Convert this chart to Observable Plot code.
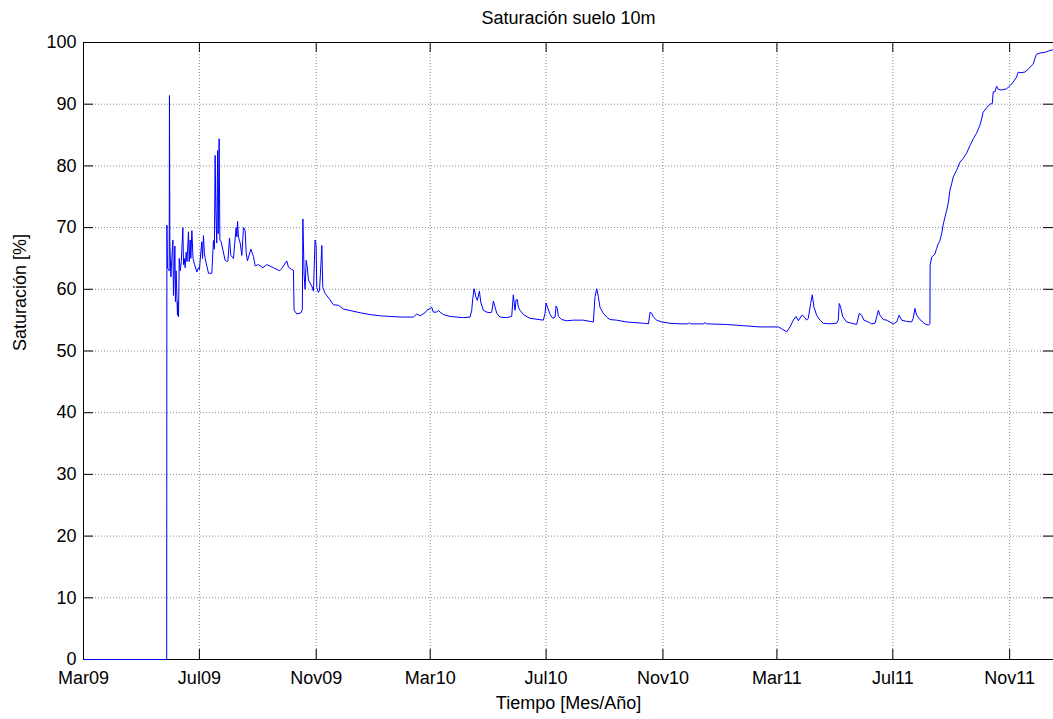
<!DOCTYPE html>
<html>
<head>
<meta charset="utf-8">
<script src="https://cdn.jsdelivr.net/npm/d3@7"></script>
<script src="https://cdn.jsdelivr.net/npm/@observablehq/plot@0.6"></script>
<style>
  html, body { margin: 0; padding: 0; background: #fff; }
  #chart svg { display: block; }
</style>
</head>
<body>
<div id="chart"></div>
<script>
// Soil saturation sensor at 10 m depth: reading time (UTC, hour resolution) and saturation (%)
const readingTimes = [
  "2009-03-01T00","2009-05-27T14","2009-05-27T19","2009-05-28T10","2009-05-29T19","2009-05-30T05","2009-05-30T12","2009-05-30T22","2009-06-01T00","2009-06-03T02",
  "2009-06-03T17","2009-06-05T05","2009-06-05T19","2009-06-06T12","2009-06-07T22","2009-06-08T12","2009-06-09T00","2009-06-09T19","2009-06-10T19","2009-06-12T00",
  "2009-06-13T14","2009-06-14T07","2009-06-15T00","2009-06-16T00","2009-06-17T02","2009-06-18T00","2009-06-19T12","2009-06-20T07","2009-06-21T07","2009-06-22T00",
  "2009-06-23T02","2009-06-24T07","2009-06-26T00","2009-06-28T07","2009-06-30T00","2009-07-01T02","2009-07-02T12","2009-07-03T14","2009-07-04T07","2009-07-05T07",
  "2009-07-06T05","2009-07-07T02","2009-07-10T14","2009-07-14T02","2009-07-15T19","2009-07-16T19","2009-07-17T14","2009-07-18T07","2009-07-19T07","2009-07-20T05",
  "2009-07-20T19","2009-07-21T19","2009-07-22T14","2009-07-23T22","2009-07-28T02","2009-07-29T22","2009-07-31T00","2009-08-01T17","2009-08-03T02","2009-08-05T22",
  "2009-08-07T12","2009-08-08T17","2009-08-09T12","2009-08-10T05","2009-08-11T02","2009-08-12T22","2009-08-14T17","2009-08-16T10","2009-08-18T05","2009-08-19T05",
  "2009-08-20T14","2009-08-24T05","2009-08-26T22","2009-08-28T17","2009-09-01T05","2009-09-05T19","2009-09-10T00","2009-09-17T00","2009-09-23T07","2009-09-25T19",
  "2009-10-01T00","2009-10-02T17","2009-10-06T07","2009-10-08T00","2009-10-08T17","2009-10-11T14","2009-10-16T02","2009-10-17T10","2009-10-17T22","2009-10-19T07",
  "2009-10-20T07","2009-10-21T10","2009-10-22T17","2009-10-23T19","2009-10-27T10","2009-10-29T02","2009-10-30T19","2009-10-31T22","2009-11-01T14","2009-11-03T07",
  "2009-11-04T10","2009-11-05T10","2009-11-06T22","2009-11-07T22","2009-11-10T10","2009-11-15T14","2009-11-19T02","2009-11-24T10","2009-11-29T14","2009-12-17T05",
  "2009-12-27T17","2010-01-07T07","2010-01-17T19","2010-01-30T02","2010-02-11T07","2010-02-14T22","2010-02-18T07","2010-02-23T14","2010-02-25T10","2010-02-28T22",
  "2010-03-02T14","2010-03-04T07","2010-03-07T22","2010-03-09T14","2010-03-11T10","2010-03-14T22","2010-03-21T22","2010-04-04T22","2010-04-12T00","2010-04-13T17",
  "2010-04-14T19","2010-04-16T05","2010-04-18T00","2010-04-19T14","2010-04-21T19","2010-04-23T05","2010-04-26T00","2010-04-29T14","2010-05-03T00","2010-05-04T19",
  "2010-05-06T12","2010-05-08T07","2010-05-10T02","2010-05-13T12","2010-05-20T14","2010-05-25T19","2010-05-27T12","2010-05-29T07","2010-05-30T10","2010-05-31T19",
  "2010-06-01T19","2010-06-03T14","2010-06-07T02","2010-06-14T02","2010-06-28T02","2010-06-29T22","2010-06-30T22","2010-07-02T10","2010-07-05T05","2010-07-08T00",
  "2010-07-10T10","2010-07-11T12","2010-07-12T19","2010-07-13T22","2010-07-17T12","2010-07-22T17","2010-07-29T17","2010-08-09T05","2010-08-19T17","2010-08-21T12",
  "2010-08-23T07","2010-08-25T00","2010-08-26T17","2010-08-30T05","2010-09-02T19","2010-09-06T07","2010-09-13T07","2010-09-23T22","2010-10-11T10","2010-10-16T17",
  "2010-10-18T12","2010-10-20T05","2010-10-22T00","2010-10-25T10","2010-10-30T17","2010-11-08T10","2010-11-19T00","2010-11-27T17","2010-11-28T19","2010-11-30T05",
  "2010-12-13T12","2010-12-15T07","2010-12-17T00","2011-01-07T02","2011-01-24T14","2011-02-11T05","2011-03-02T12","2011-03-06T00","2011-03-11T07","2011-03-14T19",
  "2011-03-18T07","2011-03-21T02","2011-03-23T14","2011-03-27T05","2011-03-29T12","2011-04-01T07","2011-04-03T00","2011-04-05T12","2011-04-07T05","2011-04-09T00",
  "2011-04-11T19","2011-04-15T07","2011-04-18T19","2011-04-25T19","2011-05-02T22","2011-05-04T14","2011-05-05T14","2011-05-07T02","2011-05-09T05","2011-05-13T10",
  "2011-05-18T17","2011-05-23T22","2011-05-26T17","2011-05-29T05","2011-05-31T14","2011-06-05T05","2011-06-08T19","2011-06-12T07","2011-06-14T00","2011-06-15T19",
  "2011-06-17T10","2011-06-20T22","2011-06-24T12","2011-06-28T00","2011-07-01T12","2011-07-05T02","2011-07-07T17","2011-07-10T07","2011-07-15T12","2011-07-20T19",
  "2011-07-22T12","2011-07-24T07","2011-07-26T02","2011-07-29T12","2011-08-03T19","2011-08-07T07","2011-08-09T02","2011-08-09T07","2011-08-10T22","2011-08-14T07",
  "2011-08-16T02","2011-08-17T22","2011-08-19T14","2011-08-21T10","2011-08-23T05","2011-08-24T22","2011-08-26T17","2011-08-28T12","2011-08-30T02","2011-08-31T22",
  "2011-09-02T14","2011-09-06T05","2011-09-09T14","2011-09-13T02","2011-09-16T19","2011-09-20T05","2011-09-23T17","2011-09-27T05","2011-09-30T17","2011-10-02T12",
  "2011-10-04T02","2011-10-07T17","2011-10-11T05","2011-10-13T17","2011-10-14T17","2011-10-16T12","2011-10-18T07","2011-10-20T00","2011-10-23T12","2011-10-28T19",
  "2011-11-01T07","2011-11-04T19","2011-11-08T07","2011-11-10T00","2011-11-11T19","2011-11-17T02","2011-11-20T12","2011-11-25T19","2011-11-27T14","2011-11-29T07",
  "2011-12-02T19","2011-12-08T02","2011-12-13T10","2011-12-16T12"
];

const saturation = [
  0, 0, 70.4, 63.4, 63.2, 63, 91.4, 67.7, 62, 68,
  59, 67, 58, 63, 55.8, 58, 55.5, 65, 63, 64.5,
  70, 64, 65, 63.5, 66, 64.5, 69.3, 64.5, 68, 65,
  69.5, 65, 64, 62.8, 63.5, 63.2, 66, 67.7, 65, 68.7,
  66, 65, 62.6, 62.6, 67.9, 66.5, 81.7, 73.1, 67.5, 82.5,
  69, 84.4, 68, 67.7, 64.7, 64.5, 64.6, 68.3, 65.5, 65,
  68, 70, 68.5, 71, 68.5, 67.5, 65.5, 70, 69.5, 66,
  64.6, 66.5, 65.3, 63.8, 64, 63.5, 64, 63.5, 63, 63.4,
  64.6, 63.6, 63.2, 63.1, 56.6, 56.0, 56.2, 56.8, 71.4, 62.3,
  60, 64.7, 63.5, 61.5, 60.5, 59.7, 68, 67, 60.3, 59.5,
  59.8, 62.5, 67.1, 60.3, 59.3, 58.3, 57.5, 57.4, 56.8, 56.2,
  55.9, 55.7, 55.6, 55.5, 55.5, 56, 55.7, 56.2, 56.6, 56.9,
  57.1, 56.3, 56.3, 56.6, 56.3, 55.9, 55.6, 55.4, 55.5, 56.6,
  58.5, 60.1, 58.8, 58.2, 59.7, 57.9, 56.6, 56.3, 56.2, 56.3,
  58.1, 57.1, 56.1, 55.5, 55.4, 55.6, 59.1, 56.6, 58.3, 58.3,
  57.1, 56.6, 55.9, 55.3, 55.0, 56.1, 57.8, 57.1, 55.9, 55.3,
  55.5, 57.3, 56.9, 55.6, 55.1, 54.9, 55.0, 55.0, 54.7, 58.8,
  60.1, 58.8, 57.1, 56.1, 55.5, 55.1, 55.0, 54.7, 54.5, 54.4,
  56.3, 56.1, 55.5, 55.0, 54.7, 54.5, 54.4, 54.4, 54.6, 54.4,
  54.4, 54.6, 54.4, 54.3, 54.1, 53.9, 53.9, 53.6, 53.1, 53.9,
  55.0, 55.6, 54.9, 55.8, 55.6, 55.0, 55.3, 57.7, 59.1, 57.1,
  55.8, 55.0, 54.5, 54.4, 54.5, 55.0, 57.7, 57.1, 55.6, 54.7,
  54.5, 54.3, 56.1, 55.8, 55.0, 54.7, 54.4, 54.5, 55.5, 56.6,
  55.8, 55.1, 55.0, 54.7, 54.4, 54.7, 55.8, 55.0, 54.8, 54.7,
  55.3, 56.9, 55.8, 55.1, 54.4, 54.2, 54.4, 63.9, 65.2, 65.7,
  66.6, 67.4, 67.9, 69.0, 70.6, 71.7, 72.8, 74.1, 76.0, 77.1,
  78.2, 79.3, 80.6, 81.2, 82.1, 83.3, 84.4, 85.3, 86.6, 87.6,
  88.7, 89.4, 90.0, 90.1, 92.0, 92.0, 92.9, 92.4, 92.3, 92.5,
  93.0, 93.6, 94.4, 95.2, 95.1, 95.2, 95.7, 96.5, 97.4, 98.1,
  98.3, 98.4, 98.7, 98.8
];

// Month ticks every four months and their labels
const monthTicks = ["2009-03-01", "2009-07-01", "2009-11-01", "2010-03-01", "2010-07-01",
                    "2010-11-01", "2011-03-01", "2011-07-01", "2011-11-01"];
const monthLabels = ["Mar09", "Jul09", "Nov09", "Mar10", "Jul10", "Nov10", "Mar11", "Jul11", "Nov11"];
const valueTicks = [0, 10, 20, 30, 40, 50, 60, 70, 80, 90, 100];

const chartTitle = "Saturación suelo 10m";
const xTitle = "Tiempo [Mes/Año]";
const yTitle = "Saturación [%]";

const parseTime = d3.utcParse("%Y-%m-%dT%H");
const parseDay = d3.utcParse("%Y-%m-%d");
const series = readingTimes.map((t, i) => ({time: parseTime(t), value: saturation[i]}));
const tickDates = monthTicks.map(parseDay);
const labelOf = new Map(tickDates.map((d, i) => [+d, monthLabels[i]]));
const xStart = parseTime("2009-03-01T00");
const xEnd = parseTime("2011-12-17T04");

const W = 1053, H = 719;
const mt = 42, mb = 60, ml = 83, mr = 0;
const frameH = H - mt - mb, frameW = W - ml - mr;
const tickLen = 10;
const font = "'Liberation Sans', Arial, Helvetica, sans-serif";
const gridStyle = {stroke: "#000", strokeOpacity: 0.45, strokeDasharray: "1,2"};

const chart = Plot.plot({
  width: W,
  height: H,
  marginTop: mt,
  marginBottom: mb,
  marginLeft: ml,
  marginRight: mr,
  style: {fontFamily: font, fontSize: "18px", color: "#000", background: "#fff"},
  x: {type: "utc", domain: [xStart, xEnd]},
  y: {domain: [0, 100]},
  marks: [
    // dotted grid
    Plot.ruleX(tickDates, {...gridStyle}),
    Plot.ruleY(valueTicks, {...gridStyle}),
    // axes box (bottom, top, left)
    Plot.ruleY([0, 100], {stroke: "#000", strokeWidth: 1}),
    Plot.ruleX([xStart], {stroke: "#000", strokeWidth: 1}),
    // inward tick marks on all four sides
    Plot.ruleX(tickDates, {insetTop: frameH - tickLen, stroke: "#000"}),
    Plot.ruleX(tickDates, {insetBottom: frameH - tickLen, stroke: "#000"}),
    Plot.ruleY(valueTicks, {insetRight: frameW - tickLen, stroke: "#000"}),
    Plot.ruleY(valueTicks, {insetLeft: frameW - tickLen, stroke: "#000"}),
    // saturation trace, drawn over the box so the zero run stays visible
    Plot.line(series, {x: "time", y: "value", stroke: "#0000ff", strokeWidth: 1}),
    // tick labels
    Plot.axisX({ticks: tickDates, tickSize: 0, tickPadding: 12,
                tickFormat: d => labelOf.get(+d), label: null}),
    Plot.axisY({ticks: valueTicks, tickSize: 0, tickPadding: 7, label: null}),
    // titles
    Plot.text([chartTitle], {text: d => d, frameAnchor: "top", lineAnchor: "middle", dy: -24, fontSize: 18}),
    Plot.text([xTitle], {text: d => d, frameAnchor: "bottom", lineAnchor: "middle", dy: 44, fontSize: 18}),
    Plot.text([yTitle], {text: d => d, frameAnchor: "left", lineAnchor: "middle", dx: -63, rotate: -90, fontSize: 18})
  ]
});

document.getElementById("chart").append(chart);
</script>
</body>
</html>
